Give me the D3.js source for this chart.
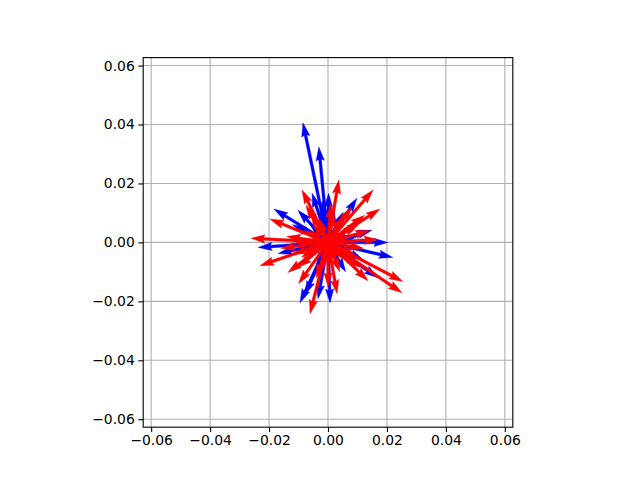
<!DOCTYPE html>
<html><head><meta charset="utf-8">
<script src="https://cdn.jsdelivr.net/npm/d3@7"></script>
<style>body{margin:0;background:#fff}svg{display:block}</style>
</head><body>
<svg id="c" width="640" height="480"></svg>
<script>
const tickValues = [-0.06, -0.04, -0.02, 0, 0.02, 0.04, 0.06];
const blueU = [-0.0085,-0.0031,0.0002,-0.0054,-0.0183,-0.0102,0.0098,0.0051,0.0149,0.0203,0.0220,-0.0237,-0.0095,-0.0078,-0.0034,0.0007,0.0169,-0.0169,0.008,-0.006,0.004,-0.004,0.010,-0.010,0.002,0.006,-0.012,0.012,-0.002,0.007];
const blueV = [0.0406,0.0324,0.0167,0.0167,0.0113,0.0109,0.0150,0.0102,0.0041,0.0000,-0.0051,-0.0017,-0.0205,-0.0178,-0.0191,-0.0205,-0.0120,-0.0038,-0.004,0.006,0.006,-0.008,0.002,-0.002,0.012,-0.010,0.006,-0.006,0.014,0.002];
const redU = [0.0037,-0.0088,0.0153,0.0176,-0.0197,-0.0261,-0.0231,-0.0136,-0.0061,0.0031,0.0136,0.0254,0.0251,-0.0102,0.0108,0.0125,-0.0075,0.010,-0.008,0.006,-0.004,0.012,-0.012,0.002,-0.006,0.008,0.004,-0.014,0.014,-0.010,0.000,-0.005,0.006,-0.009,0.009,-0.003,0.003,-0.011,0.011,-0.007,0.005,-0.016,0.017,-0.002,0.001];
const redV = [0.0212,0.0178,0.0178,0.0113,0.0079,0.0014,-0.0079,-0.0102,-0.0242,-0.0174,-0.0130,-0.0133,-0.0171,-0.0085,-0.0085,0.0092,0.0126,0.006,0.004,-0.006,-0.012,-0.002,-0.004,0.010,0.010,0.012,-0.010,0.002,0.004,-0.014,-0.015,0.006,0.003,-0.005,-0.004,0.008,-0.007,0.000,0.007,-0.003,0.009,-0.002,0.001,-0.009,0.013];

const L = 0.0627;
const ax = {left:143.2, right:512.8, top:57.6, bottom:427.2};
const svg = d3.select('#c');
const x = d3.scaleLinear().domain([-L, L]).range([ax.left, ax.right]);
const y = d3.scaleLinear().domain([-L, L]).range([ax.bottom, ax.top]);

const g = svg.append('g');
g.selectAll('.gx').data(tickValues).enter().append('line')
  .attr('x1', d=>x(d)).attr('x2', d=>x(d)).attr('y1', ax.top).attr('y2', ax.bottom)
  .attr('stroke', '#b0b0b0').attr('stroke-width', 1.1);
g.selectAll('.gy').data(tickValues).enter().append('line')
  .attr('y1', d=>y(d)).attr('y2', d=>y(d)).attr('x1', ax.left).attr('x2', ax.right)
  .attr('stroke', '#b0b0b0').attr('stroke-width', 1.1);

const span = ax.right - ax.left;
const w = 0.06 * span / 8;
const hl = 5, hal = 4.5, hw = 3;
function arrowPath(u, v) {
  const x0 = x(0), y0 = y(0);
  const px = x(u) - x0, py = y(v) - y0;
  const len = Math.hypot(px, py);
  const ang = Math.atan2(py, px);
  const Lw = len / w;
  let X, Y;
  if (Lw < hl) {
    const s = Lw / hl;
    X = [0, hl - hal, 0, hl].map(t => t * s);
    Y = [0.5, 0.5, hw / 2, 0].map(t => t * s);
  } else {
    X = [0, Lw - hal, Lw - hl, Lw];
    Y = [0.5, 0.5, hw / 2, 0];
  }
  const idx = [0, 1, 2, 3, 2, 1, 0];
  const sg = [1, 1, 1, 1, -1, -1, -1];
  const c = Math.cos(ang), s2 = Math.sin(ang);
  const pts = idx.map((k, i) => {
    const ax_ = X[k] * w, ay_ = Y[k] * w * sg[i];
    return [x0 + ax_ * c - ay_ * s2, y0 + ax_ * s2 + ay_ * c];
  });
  return 'M' + pts.map(p => p[0].toFixed(2) + ',' + p[1].toFixed(2)).join('L') + 'Z';
}
svg.append('clipPath').attr('id', 'clp').append('rect')
  .attr('x', ax.left).attr('y', ax.top).attr('width', span).attr('height', ax.bottom - ax.top);
const qa = svg.append('g').attr('clip-path', 'url(#clp)');
qa.selectAll('.b').data(d3.range(blueU.length)).enter().append('path')
  .attr('d', i => arrowPath(blueU[i], blueV[i])).attr('fill', '#0000ff').attr('stroke', '#0000ff').attr('stroke-width', 0.4);
qa.selectAll('.r').data(d3.range(redU.length)).enter().append('path')
  .attr('d', i => arrowPath(redU[i], redV[i])).attr('fill', '#ff0000').attr('stroke', '#ff0000').attr('stroke-width', 0.4);

const fmt = d => d3.format('.2f')(d).replace('-', '\u2212');
const xa = svg.append('g').attr('transform', `translate(0,${ax.bottom})`)
  .call(d3.axisBottom(x).tickValues(tickValues).tickFormat(fmt).tickSize(4.9).tickPadding(3.5));
const ya = svg.append('g').attr('transform', `translate(${ax.left},0)`)
  .call(d3.axisLeft(y).tickValues(tickValues).tickFormat(fmt).tickSize(4.9).tickPadding(3.5));
[xa, ya].forEach(a => {
  a.select('.domain').remove();
  a.selectAll('line').attr('stroke', '#000').attr('stroke-width', 1.1);
  a.selectAll('text').attr('font-family', 'DejaVu Sans').attr('font-size', '13.9px').attr('fill', '#000');
});
svg.append('rect').attr('x', ax.left).attr('y', ax.top).attr('width', span).attr('height', ax.bottom - ax.top)
  .attr('fill', 'none').attr('stroke', '#000').attr('stroke-width', 1.1);
</script>
</body></html>
